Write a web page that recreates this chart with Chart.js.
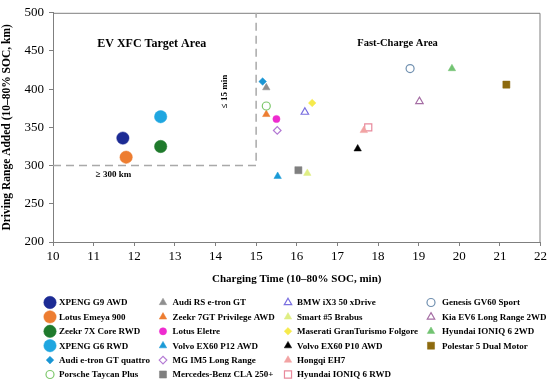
<!DOCTYPE html>
<html>
<head>
<meta charset="utf-8">
<script src="https://cdn.jsdelivr.net/npm/chart.js@4/dist/chart.umd.min.js"></script>
<style>
  body { margin: 0; background: #fff; }
  #wrap { width: 550px; height: 385px; position: relative; }
</style>
</head>
<body>
<div id="wrap"><canvas id="evChart"></canvas></div>
<script>
// --- Data ---
const models = [
    'XPENG G9 AWD', 'Lotus Emeya 900', 'Zeekr 7X Core RWD', 'XPENG G6 RWD',
    'Audi e-tron GT quattro', 'Porsche Taycan Plus',
    'Audi RS e-tron GT', 'Zeekr 7GT Privilege AWD', 'Lotus Eletre', 'Volvo EX60 P12 AWD',
    'MG IM5 Long Range', 'Mercedes-Benz CLA 250+',
    'BMW iX3 50 xDrive', 'Smart #5 Brabus', 'Maserati GranTurismo Folgore', 'Volvo EX60 P10 AWD',
    'Hongqi EH7', 'Hyundai IONIQ 6 RWD',
    'Genesis GV60 Sport', 'Kia EV6 Long Range 2WD', 'Hyundai IONIQ 6 2WD', 'Polestar 5 Dual Motor'
];
const chargeTime = [
    11.72, 11.80, 12.65, 12.65, 15.16, 15.25,
    15.25, 15.25, 15.50, 15.53, 15.52, 16.04,
    16.20, 16.26, 16.38, 17.50, 17.65, 17.76,
    18.79, 19.02, 19.82, 21.16
];
const rangeAdded = [
    336, 311, 325, 364, 410, 378,
    402, 367, 361, 286, 346, 294,
    370, 290, 382, 322, 346, 350,
    427, 384, 427, 406
];
const xTicks = [10, 11, 12, 13, 14, 15, 16, 17, 18, 19, 20, 21, 22];
const yTicks = [200, 250, 300, 350, 400, 450, 500];

// target area limits (<= 15 min, >= 300 km)
const targetTime = 15;
const targetRange = 300;

// --- Marker styles ---
const colors = [
    '#1c2b94', '#ed7d31', '#1f7a2c', '#1fa6e0', '#1a96d4', '#7ec86c',
    '#8f8f8f', '#ed7d31', '#ee2bcf', '#1a9ad6', '#b47ad4', '#7f7f7f',
    '#7a6fe0', '#dfee84', '#f6ea4c', '#000000', '#f2a3a3', '#e8899c',
    '#7090b0', '#a56ea4', '#72c372', '#8d6a0e'
];
const shapes = [
    'circle', 'circle', 'circle', 'circle', 'rectRot', 'circle',
    'triangle', 'triangle', 'circle', 'triangle', 'rectRot', 'rect',
    'triangle', 'triangle', 'rectRot', 'triangle', 'triangle', 'rect',
    'circle', 'triangle', 'triangle', 'rect'
];
const hollow = [
    false, false, false, false, false, true,
    false, false, false, false, true, false,
    true, false, false, false, false, true,
    true, true, false, false
];
const sizes = [
    6.2, 6.2, 6.2, 6.2, 3.8, 4,
    4.3, 4.3, 3.6, 4.3, 3.8, 5,
    4.3, 4.3, 3.8, 4.3, 4.3, 5,
    4, 4.3, 4.3, 5
];

const serif = "'Liberation Serif', 'Times New Roman', serif";

let datasets = models.map(function (name, i) {
    return {
        label: name,
        data: [{ x: chargeTime[i], y: rangeAdded[i] }],
        pointStyle: shapes[i],
        pointRadius: sizes[i],
        pointHoverRadius: sizes[i],
        backgroundColor: hollow[i] ? '#ffffff' : colors[i],
        borderColor: colors[i],
        pointBorderWidth: hollow[i] ? 1.2 : 0.5
    };
});

// dashed boundary of the XFC target area
datasets.push({
    label: 'target',
    type: 'line',
    data: [
        { x: xTicks[0], y: targetRange },
        { x: targetTime, y: targetRange },
        { x: targetTime, y: yTicks[yTicks.length - 1] }
    ],
    borderColor: '#a9a9a9',
    borderWidth: 1.5,
    borderDash: [8, 5],
    pointRadius: 0,
    fill: false
});

// frame around the plot (top + right sides)
const framePlugin = {
    id: 'frame',
    beforeDatasetsDraw(chart) {
        const { ctx, chartArea: a } = chart;
        ctx.save();
        ctx.strokeStyle = '#7f7f7f';
        ctx.lineWidth = 1;
        ctx.beginPath();
        ctx.moveTo(a.left, a.top + 0.5);
        ctx.lineTo(a.right - 0.5, a.top + 0.5);
        ctx.lineTo(a.right - 0.5, a.bottom);
        ctx.stroke();
        ctx.restore();
    }
};

// area labels placed through the scales
const labelPlugin = {
    id: 'areaLabels',
    afterDatasetsDraw(chart) {
        const { ctx } = chart;
        const xs = chart.scales.x, ys = chart.scales.y;
        ctx.save();
        ctx.fillStyle = '#000';
        ctx.textAlign = 'center';
        ctx.textBaseline = 'middle';
        ctx.font = 'bold 12px ' + serif;
        ctx.fillText('EV XFC Target Area', xs.getPixelForValue(12.43), ys.getPixelForValue(459));
        ctx.font = 'bold 10.5px ' + serif;
        ctx.fillText('Fast-Charge Area', xs.getPixelForValue(18.48), ys.getPixelForValue(460));
        ctx.font = 'bold 9px ' + serif;
        ctx.fillText('\u2265 300 km', xs.getPixelForValue(11.49), ys.getPixelForValue(288));
        ctx.translate(xs.getPixelForValue(14.22), ys.getPixelForValue(397));
        ctx.rotate(-Math.PI / 2);
        ctx.fillText('\u2264 15 min', 0, 0);
        ctx.restore();
    }
};

// legend in 4 columns, filled column by column
const legendPlugin = {
    id: 'colLegend',
    afterDraw(chart) {
        const { ctx } = chart;
        const markX = [50, 163, 288, 431];
        const textX = [59, 172.5, 297, 442];
        const top = 302.5, step = 14.4, perCol = 6;
        ctx.save();
        ctx.font = 'bold 9px ' + serif;
        ctx.textBaseline = 'middle';
        ctx.textAlign = 'left';
        models.forEach(function (name, i) {
            const col = Math.floor(i / perCol), row = i % perCol;
            const y = top + row * step;
            ctx.fillStyle = hollow[i] ? '#ffffff' : colors[i];
            ctx.strokeStyle = colors[i];
            ctx.lineWidth = hollow[i] ? 1.2 : 0.5;
            Chart.helpers.drawPoint(ctx, { pointStyle: shapes[i], radius: sizes[i], rotation: 0, borderWidth: ctx.lineWidth }, markX[col], y);
            ctx.fillStyle = '#000';
            ctx.fillText(name, textX[col], y + 0.5);
        });
        ctx.restore();
    }
};

new Chart(document.getElementById('evChart').getContext('2d'), {
    type: 'scatter',
    data: { datasets: datasets },
    plugins: [framePlugin, labelPlugin, legendPlugin],
    options: {
        responsive: true,
        maintainAspectRatio: false,
        animation: false,
        layout: { padding: { top: 9, right: 9, bottom: 95, left: 0 } },
        plugins: {
            legend: { display: false },
            tooltip: { enabled: false }
        },
        scales: {
            x: {
                type: 'linear',
                min: xTicks[0],
                max: xTicks[xTicks.length - 1],
                afterBuildTicks: function (scale) {
                    scale.ticks = xTicks.map(function (v) { return { value: v }; });
                },
                afterFit: function (scale) { scale.height = 48; },
                grid: { drawOnChartArea: false, tickLength: 4, color: '#7f7f7f' },
                border: { color: '#7f7f7f', width: 1 },
                ticks: {
                    padding: 3,
                    color: '#000',
                    font: { size: 13, family: serif }
                },
                title: {
                    display: true,
                    text: 'Charging Time (10\u201380% SOC, min)',
                    color: '#000',
                    font: { size: 11, weight: 'bold', family: serif },
                    padding: { top: 0, bottom: 4 }
                }
            },
            y: {
                type: 'linear',
                min: yTicks[0],
                max: yTicks[yTicks.length - 1],
                afterBuildTicks: function (scale) {
                    scale.ticks = yTicks.map(function (v) { return { value: v }; });
                },
                afterFit: function (scale) { scale.width = 53; },
                grid: { drawOnChartArea: false, tickLength: 4, color: '#7f7f7f' },
                border: { color: '#7f7f7f', width: 1 },
                ticks: {
                    padding: 5,
                    color: '#000',
                    font: { size: 13, family: serif }
                },
                title: {
                    display: true,
                    text: 'Driving Range Added (10\u201380% SOC, km)',
                    color: '#000',
                    font: { size: 11.5, weight: 'bold', family: serif },
                    padding: { top: 0, bottom: 0 }
                }
            }
        }
    }
});
</script>
</body>
</html>
